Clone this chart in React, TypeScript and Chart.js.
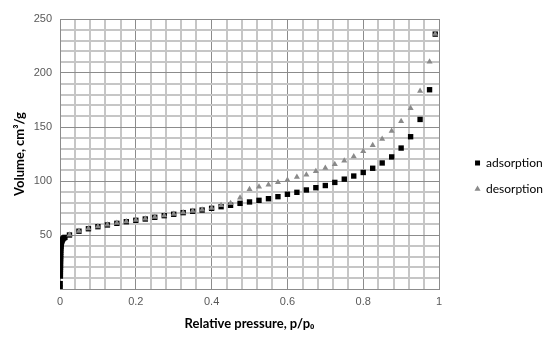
import React, { useEffect, useRef } from 'react';
import { Chart, registerables } from 'chart.js';

Chart.register(...registerables);

const seriesNames = ['adsorption', 'desorption'];

const adsorptionX = [
  0.0005, 0.0005, 0.001, 0.001, 0.001, 0.0011, 0.0012, 0.0012, 0.0013, 0.0014, 0.0015, 0.0016,
  0.0017, 0.0018, 0.002, 0.0022, 0.0025, 0.003, 0.0035, 0.004, 0.005, 0.006, 0.008, 0.01, 0.013,
  0.025, 0.05, 0.075, 0.1, 0.125, 0.15, 0.175, 0.2, 0.225, 0.25, 0.275, 0.3, 0.325, 0.35, 0.375, 0.4,
  0.425, 0.45, 0.475, 0.5, 0.525, 0.55, 0.575, 0.6, 0.625, 0.65, 0.675, 0.7, 0.725, 0.75, 0.775, 0.8,
  0.825, 0.85, 0.875, 0.9, 0.925, 0.95, 0.975, 0.99,
];
const adsorptionY = [
  0.8, 5, 12, 14, 16, 18, 20, 22, 24, 26, 28, 30,
  32, 34, 36, 38, 39.5, 41, 42.5, 43.5, 44.5, 45.5, 46.5, 47.2, 47.8,
  50, 53.5, 55.8, 57.7, 59.3, 60.8, 62.3, 63.6, 64.8, 66.4, 67.9, 69.2, 70.7, 72, 73.1, 74.7,
  76.2, 77.5, 79.3, 80.6, 82.1, 83.6, 85.5, 87.7, 89.5, 91.7, 93.8, 95.8, 98.7, 101.7, 104.6, 107.9,
  111.8, 116.7, 122.3, 130.5, 141, 157, 184.5, 236,
];

const desorptionX = [
  0.99, 0.975, 0.95, 0.925, 0.9, 0.875, 0.85, 0.825, 0.8, 0.775, 0.75, 0.725, 0.7, 0.675, 0.65, 0.625,
  0.6, 0.575, 0.55, 0.525, 0.5, 0.475, 0.45, 0.425, 0.4, 0.375, 0.35, 0.325, 0.3, 0.275, 0.25, 0.225,
  0.2, 0.175, 0.15, 0.125, 0.1, 0.075, 0.05, 0.025,
];
const desorptionY = [
  236, 210.5, 183.3, 167.3, 155.3, 146.4, 139, 133, 127.6, 122.8, 118.8, 115.5, 112, 109, 105.8, 103.7,
  100.9, 98.8, 96.6, 94.7, 92.3, 84.5, 79.3, 77.5, 75, 73.3, 72.2, 70.9, 69.4, 68.1, 66.6, 65,
  63.8, 62.5, 61, 59.5, 57.9, 56, 53.7, 50.2,
];

const xAxisTitle = 'Relative pressure, p/p\u2080';
const yAxisTitle = 'Volume, cm\u00B3/g';
const xMajorTicks = [0, 0.2, 0.4, 0.6, 0.8, 1];
const yMajorTicks = [50, 100, 150, 200, 250];

export default function App() {
  const ref = useRef<HTMLCanvasElement>(null);

  useEffect(() => {
    document.body.style.margin = '0';
    const near = (v: number, list: number[]) => list.some((m) => Math.abs(m - v) < 1e-6);
    const isMajorX = (v: number) => Math.abs(v / 0.2 - Math.round(v / 0.2)) < 1e-6;
    const isMajorY = (v: number) => Math.abs(v / 50 - Math.round(v / 50)) < 1e-6;
    const tickFont = { family: '"Liberation Sans", Arial, sans-serif', size: 11 };
    const titleFont = { family: 'Lato, "Open Sans", sans-serif', size: 13, weight: 'bold' as const };

    const legendOffset = {
      id: 'legendOffset',
      beforeDraw(chart: any) {
        const lg = chart.legend;
        if (!lg) return;
        const dx = chart.chartArea.right + 22 - lg.left;
        lg.left += dx;
        lg.right += dx;
        lg.top -= 5;
        lg.bottom -= 5;
      },
    };

    const chart = new Chart(ref.current!, {
      type: 'scatter',
      data: {
        datasets: [
          {
            label: seriesNames[0],
            data: adsorptionX.map((x, i) => ({ x, y: adsorptionY[i] })),
            pointStyle: 'rect',
            pointRadius: 3.8,
            pointBackgroundColor: '#000000',
            pointBorderColor: '#000000',
            pointBorderWidth: 0,
            backgroundColor: '#000000',
            borderColor: '#000000',
            order: 1,
          },
          {
            label: seriesNames[1],
            data: desorptionX.map((x, i) => ({ x, y: desorptionY[i] })),
            pointStyle: 'triangle',
            pointRadius: 3.5,
            pointBackgroundColor: '#8a8a8a',
            pointBorderColor: '#8a8a8a',
            pointBorderWidth: 0,
            backgroundColor: '#8a8a8a',
            borderColor: '#8a8a8a',
            order: 0,
          },
        ],
      },
      options: {
        responsive: false,
        animation: false,
        layout: { padding: { top: 19, right: 19, bottom: 0, left: 0 } },
        plugins: {
          tooltip: { enabled: false },
          legend: {
            position: 'right',
            labels: {
              usePointStyle: true,
              boxWidth: 5,
              boxHeight: 5,
              padding: 14,
              color: '#000000',
              font: { family: 'Lato, "Open Sans", sans-serif', size: 12 },
              sort: (a: any, b: any) => a.datasetIndex - b.datasetIndex,
            },
          },
        },
        scales: {
          x: {
            type: 'linear',
            min: 0,
            max: 1,
            afterFit: (s: any) => {
              s.height = 54;
            },
            ticks: {
              stepSize: 0.04,
              autoSkip: false,
              maxRotation: 0,
              padding: 6,
              color: '#595959',
              font: tickFont,
              callback: (v: any) => (near(Number(v), xMajorTicks) ? String(Math.round(Number(v) * 10) / 10) : ''),
            },
            grid: {
              drawTicks: false,
              color: (c: any) => (isMajorX(c.tick.value) ? '#8c8c8c' : '#c6c6c6'),
              lineWidth: (c: any) => (isMajorX(c.tick.value) ? 1 : 2),
            },
            border: { color: '#8c8c8c', width: 1 },
            title: {
              display: true,
              text: xAxisTitle,
              color: '#000000',
              font: titleFont,
              padding: { top: 0, bottom: 11 },
            },
          },
          y: {
            type: 'linear',
            min: 0,
            max: 250,
            afterFit: (s: any) => {
              s.width = 60;
            },
            ticks: {
              stepSize: 10,
              autoSkip: false,
              padding: 8,
              color: '#595959',
              font: tickFont,
              callback: (v: any) => (near(Number(v), yMajorTicks) ? String(Math.round(Number(v))) : ''),
            },
            grid: {
              drawTicks: false,
              color: (c: any) => (isMajorY(c.tick.value) ? '#8c8c8c' : '#c6c6c6'),
              lineWidth: (c: any) => (isMajorY(c.tick.value) ? 1 : 2),
            },
            border: { color: '#8c8c8c', width: 1 },
            title: {
              display: true,
              text: yAxisTitle,
              color: '#000000',
              font: titleFont,
              padding: { top: 12, bottom: 0 },
            },
          },
        },
      },
      plugins: [legendOffset],
    });
    return () => chart.destroy();
  }, []);

  return <canvas ref={ref} width={550} height={343} style={{ display: 'block' }} />;
}
